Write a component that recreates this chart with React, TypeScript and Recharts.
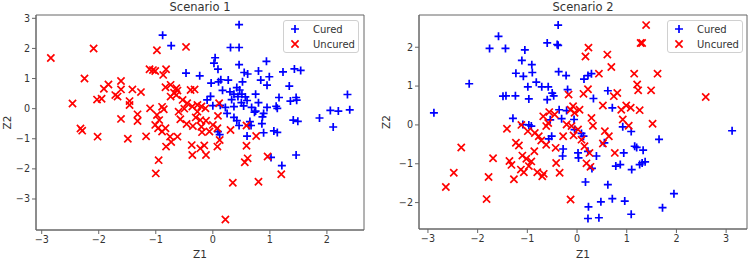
import React from "react"
import { ScatterChart, Scatter, XAxis, YAxis, ReferenceArea, Legend } from "recharts"

// Scenario 1 points [Z1, Z2]
const s1Cured: [number, number][] = [
  [0.46, 2.79], [-0.88, 2.44], [-0.73, 2.09], [0.31, 2.03], [0.46, 2.03], [0.94, 1.57],
  [0.04, 1.69], [0.02, 1.51], [0.46, 1.46], [0.09, 1.31], [-0.47, 1.18], [-0.23, 1.09],
  [0.55, 1.2], [0.61, 1.15], [0.8, 1.25], [1.23, 1.22], [1.43, 1.32], [1.54, 1.27],
  [0.99, 1.06], [0.84, 0.95], [-0.03, 0.85], [0.1, 0.89], [0.14, 0.96], [0.27, 0.95],
  [0.52, 0.89], [0.95, 0.78], [1.34, 0.75], [0.17, 0.61], [0.3, 0.56], [0.42, 0.7],
  [0.47, 0.62], [0.51, 0.48], [0.44, 0.4], [0.37, 0.48], [0.57, 0.39], [0.75, 0.48],
  [0.6, 0.27], [1.16, 0.37], [-0.04, 0.41], [-0.1, 0.29], [1.36, 0.25], [1.46, 0.37],
  [1.47, 0.28], [2.36, 0.47], [0.0, 0.1], [0.13, 0.11], [0.22, 0.04], [0.37, 0.07],
  [0.54, 0.09], [0.68, 0.04], [0.95, 0.04], [1.11, 0.08], [1.13, 0.01], [0.75, -0.08],
  [0.89, -0.16], [0.73, -0.12], [2.06, -0.06], [2.2, -0.08], [2.4, -0.04], [0.25, -0.16],
  [0.37, -0.29], [0.42, -0.4], [0.87, -0.27], [0.65, -0.43], [1.41, -0.38], [1.49, -0.42],
  [1.87, -0.31], [0.63, -0.56], [0.67, -0.56], [0.46, -0.56], [0.86, -0.5], [2.11, -0.61],
  [0.09, -0.76], [0.6, -0.91], [0.89, -0.8], [1.07, -0.74], [1.13, -0.79], [1.02, -1.62],
  [1.46, -1.54], [1.21, -1.89], [0.12, -0.86], [0.33, 0.3], [0.5, 0.2], [0.8, 0.2],
]

const s1Uncured: [number, number][] = [
  [-2.84, 1.68], [-2.09, 2.0], [-0.98, 1.94], [-0.47, 2.05], [-2.25, 1.0], [-1.11, 1.31],
  [-1.05, 1.28], [-1.01, 1.25], [-0.82, 1.31], [-0.87, 1.12], [-1.83, 0.8], [-1.91, 0.66],
  [-1.61, 0.92], [-1.41, 0.64], [-1.26, 0.55], [-2.03, 0.3], [-1.95, 0.33], [-1.71, 0.45],
  [-1.67, 0.4], [-1.61, 0.64], [-2.46, 0.17], [-1.46, 0.25], [-1.46, 0.12], [-1.32, -0.19],
  [-1.32, -0.41], [-1.61, -0.34], [-2.32, -0.66], [-2.29, -0.73], [-2.02, -0.93], [-1.49, -1.0],
  [-1.17, -0.92], [-1.1, 0.01], [-0.89, 0.06], [-0.86, -0.02], [-0.98, -0.21], [-0.94, -0.38],
  [-1.01, -0.54], [-0.96, -0.65], [-0.83, -0.65], [-0.89, -0.76], [-0.75, -0.93], [-0.82, -1.26],
  [-0.73, -1.11], [-0.62, -0.93], [-0.95, -1.71], [-1.0, -2.15], [-0.74, 0.79], [-0.64, 0.68],
  [-0.68, 0.53], [-0.62, 0.6], [-0.83, 0.71], [-0.53, 0.29], [-0.39, 0.62], [-0.32, 0.64],
  [-0.45, 0.18], [-0.36, 0.07], [-0.27, 0.12], [-0.2, 0.07], [-0.13, 0.01], [-0.27, -0.1],
  [-0.3, -0.29], [-0.57, -0.35], [-0.46, -0.51], [-0.35, -0.58], [-0.2, -0.6], [-0.22, -0.38],
  [-0.12, -0.4], [0.0, -0.54], [0.08, -0.65], [-0.06, -0.76], [-0.19, -0.78], [0.09, -0.24],
  [0.11, 0.18], [-0.37, -1.21], [-0.22, -1.32], [-0.36, -1.54], [-0.12, -1.54], [-0.15, -1.22],
  [0.08, -1.26], [0.12, -1.04], [0.31, -0.71], [0.59, -1.23], [0.61, -1.65], [0.56, -1.78],
  [0.59, -0.56], [0.76, -0.91], [0.96, -1.59], [1.2, -2.18], [0.8, -2.43], [0.35, -2.46],
  [0.22, -3.68], [-0.64, 0.45], [-0.74, 0.4], [-0.5, 0.0], [-0.6, -0.1],
]

// Scenario 2 points [Z1, Z2]
const s2Cured: [number, number][] = [
  [-2.88, 0.31], [-2.17, 1.06], [-1.58, 2.28], [-1.76, 1.97], [-1.44, 1.97], [-1.05, 1.93],
  [-0.38, 2.57], [-0.6, 2.11], [-0.4, 2.07], [-0.38, 2.05], [-1.11, 1.66], [-0.91, 1.55],
  [-0.9, 1.35], [-1.23, 1.33], [-1.08, 1.25], [-0.37, 1.37], [-0.22, 1.27], [-0.82, 1.1],
  [-0.99, 0.98], [-0.71, 0.98], [-0.58, 0.98], [-1.49, 0.74], [-1.43, 0.75], [-1.24, 0.75],
  [-0.97, 0.67], [-0.5, 0.82], [-0.47, 0.75], [-0.6, 0.65], [-0.19, 0.91], [0.14, 1.18],
  [0.22, 1.27], [0.29, 1.32], [0.62, 0.88], [0.33, 0.68], [0.71, 0.44], [-0.36, 0.39],
  [-0.21, 0.37], [-0.31, 0.16], [-1.29, 0.17], [-1.09, 0.01], [-0.97, 0.0], [-0.92, -0.03],
  [-0.54, 0.13], [-0.57, -0.36], [-0.51, -0.29], [-0.06, 0.14], [0.09, -0.22], [0.13, -0.29],
  [-0.28, -0.62], [-0.29, -0.8], [0.02, -0.72], [0.03, -0.85], [0.22, -0.68], [0.39, -0.8],
  [0.3, -1.12], [0.92, -0.05], [1.09, -0.17], [1.16, -0.55], [1.2, -0.58], [1.33, -0.65],
  [1.65, -0.37], [0.94, -0.72], [0.78, -1.06], [0.87, -1.02], [1.1, -1.15], [1.26, -1.02],
  [1.31, -0.98], [1.37, -0.95], [0.17, -1.47], [0.62, -1.54], [0.48, -1.98], [0.71, -1.9],
  [0.96, -1.96], [0.23, -2.11], [0.22, -2.41], [0.44, -2.39], [1.09, -2.3], [1.72, -2.13],
  [1.95, -1.77], [3.12, -0.15], [-0.05, -0.12], [0.55, -0.46],
]

const s2Uncured: [number, number][] = [
  [-2.64, -1.6], [-2.48, -1.23], [-2.33, -0.58], [-1.82, -1.91], [-1.78, -1.34], [-1.69, -0.86],
  [-1.41, -0.1], [-1.27, -1.4], [-1.36, -0.93], [-1.32, -1.03], [-1.23, -0.46], [-1.17, -0.53],
  [-1.1, -0.79], [-1.07, -1.22], [-1.13, -1.15], [-1.02, -0.87], [-0.92, -0.94], [-0.97, -1.06],
  [-0.8, -1.22], [-0.7, -1.32], [-0.67, -1.26], [-0.86, -0.68], [-0.77, -0.29], [-0.72, -0.4],
  [-0.99, -0.16], [-1.12, 0.0], [-0.85, -0.21], [-0.42, -0.98], [-0.35, -1.23], [-0.43, -0.59],
  [-0.62, -0.51], [-0.58, 0.05], [-0.56, 0.33], [-0.45, 0.27], [-0.68, 0.22], [-0.62, -0.03],
  [-0.17, 0.78], [-0.13, 0.39], [-0.05, 0.31], [-0.08, 0.48], [0.05, 0.39], [-0.21, 0.01],
  [-0.11, -0.03], [0.02, -0.12], [0.09, -0.38], [0.15, -0.55], [0.19, -0.99], [0.27, -1.08],
  [0.25, -0.72], [-0.13, -1.92], [0.13, 0.8], [0.22, 0.92], [0.17, 1.76], [0.23, 1.99],
  [0.44, 1.32], [0.61, 1.81], [0.69, 1.49], [0.29, 0.18], [0.32, -0.02], [0.52, 0.5],
  [0.56, -0.16], [0.52, -0.48], [0.64, -0.29], [0.76, -0.72], [0.74, 0.74], [0.81, 0.82],
  [0.89, 0.39], [0.92, 0.14], [0.99, 0.5], [1.08, 0.44], [1.04, -0.02], [1.26, 0.38],
  [1.15, 1.32], [1.21, 1.04], [1.23, 0.89], [1.28, 2.11], [1.31, 2.11], [1.39, 2.57],
  [1.62, 1.32], [1.49, 0.89], [1.52, 0.03], [2.59, 0.72], [-0.28, -0.29], [-0.07, -0.27],
]

const s1XTicks = [-3, -2, -1, 0, 1, 2]
const s1YTicks = [-3, -2, -1, 0, 1, 2, 3]
const s2XTicks = [-3, -2, -1, 0, 1, 2, 3]
const s2YTicks = [-2, -1, 0, 1, 2]

const FONT = "'DejaVu Sans', sans-serif"
const BLUE = "#0000ff"
const RED = "#ff0000"

const PlusMark = (props: any) => {
  const { cx, cy } = props
  const r = 4
  return <path d={`M${cx - r},${cy}H${cx + r}M${cx},${cy - r}V${cy + r}`} stroke={BLUE} strokeWidth={1.7} fill="none" />
}

const CrossMark = (props: any) => {
  const { cx, cy } = props
  const r = 3.6
  return (
    <path
      d={`M${cx - r},${cy - r}L${cx + r},${cy + r}M${cx - r},${cy + r}L${cx + r},${cy - r}`}
      stroke={RED}
      strokeWidth={1.7}
      fill="none"
    />
  )
}

const fmt = (v: number) => String(v).replace("-", "\u2212")

const LegendBox = () => (
  <div
    style={{
      position: "relative",
      width: 76,
      height: 33,
      boxSizing: "border-box",
      border: "1px solid #d0d0d0",
      borderRadius: 3,
      background: "rgba(255,255,255,0.85)",
      fontFamily: FONT,
      fontSize: 10,
      color: "#333",
    }}
  >
    <svg width={76} height={33} style={{ position: "absolute", left: -1, top: -1 }}>
      <PlusMark cx={12} cy={9} />
      <CrossMark cx={12} cy={24} />
      <text x={30} y={12.5} fontSize={10} fill="#333" fontFamily={FONT}>Cured</text>
      <text x={30} y={27.5} fontSize={10} fill="#333" fontFamily={FONT}>Uncured</text>
    </svg>
  </div>
)

interface PanelProps {
  title: string
  cured: [number, number][]
  uncured: [number, number][]
  xDomain: [number, number]
  yDomain: [number, number]
  xTicks: number[]
  yTicks: number[]
  width: number
  yAxisWidth: number
  marginRight: number
  xAxisHeight: number
  legendLeft: number
  zOffset: number
}

function Panel(p: PanelProps) {
  const curedData = p.cured.map(([x, y]) => ({ x, y }))
  const uncuredData = p.uncured.map(([x, y]) => ({ x, y }))
  const plotLeft = p.yAxisWidth
  const plotWidth = p.width - p.yAxisWidth - p.marginRight
  const tick = { fontSize: 9.6, fill: "#333", fontFamily: FONT }
  return (
    <div style={{ position: "relative", width: p.width, height: 259 }}>
      <div
        style={{
          position: "absolute",
          top: 0,
          left: plotLeft,
          width: plotWidth,
          textAlign: "center",
          fontFamily: FONT,
          fontSize: 11.5,
          lineHeight: "14px",
          color: "#333",
        }}
      >
        {p.title}
      </div>
      <ScatterChart width={p.width} height={259} margin={{ top: 15, right: p.marginRight, bottom: 0, left: 0 }}>
        <XAxis
          type="number"
          dataKey="x"
          domain={p.xDomain}
          ticks={p.xTicks}
          allowDataOverflow
          height={p.xAxisHeight}
          tickSize={4}
          tickMargin={2}
          tick={tick}
          tickFormatter={fmt}
          stroke="#666"
          label={{ value: "Z1", position: "insideBottom", offset: 1, fontSize: 10.5, fill: "#333", fontFamily: FONT }}
        />
        <YAxis
          type="number"
          dataKey="y"
          domain={p.yDomain}
          ticks={p.yTicks}
          allowDataOverflow
          width={p.yAxisWidth}
          tickSize={4}
          tickMargin={2}
          tick={tick}
          tickFormatter={fmt}
          stroke="#666"
          label={{
            value: "Z2",
            angle: -90,
            position: "insideLeft",
            offset: p.zOffset,
            fontSize: 10.5,
            fill: "#333",
            fontFamily: FONT,
            style: { textAnchor: "middle" },
          }}
        />
        <ReferenceArea
          x1={p.xDomain[0]}
          x2={p.xDomain[1]}
          y1={p.yDomain[0]}
          y2={p.yDomain[1]}
          fill="none"
          stroke="#666"
          strokeWidth={1}
        />
        <Scatter name="Cured" data={curedData} shape={PlusMark} isAnimationActive={false} />
        <Scatter name="Uncured" data={uncuredData} shape={CrossMark} isAnimationActive={false} />
        <Legend
          layout="vertical"
          align="center"
          verticalAlign="middle"
          content={() => <LegendBox />}
          wrapperStyle={{ top: 20, left: p.legendLeft, width: 76, height: 33, bottom: "auto", right: "auto" }}
        />
      </ScatterChart>
    </div>
  )
}

export default function App() {
  return (
    <div style={{ position: "absolute", left: 0, top: 0, width: 749, height: 259, display: "flex", background: "#fff" }}>
      <Panel
        title="Scenario 1"
        cured={s1Cured}
        uncured={s1Uncured}
        xDomain={[-3.1, 2.65]}
        yDomain={[-4.03, 3.11]}
        xTicks={s1XTicks}
        yTicks={s1YTicks}
        width={375}
        yAxisWidth={36}
        marginRight={11}
        xAxisHeight={29}
        legendLeft={283}
        zOffset={7}
      />
      <Panel
        title="Scenario 2"
        cured={s2Cured}
        uncured={s2Uncured}
        xDomain={[-3.18, 3.42]}
        yDomain={[-2.68, 2.83]}
        xTicks={s2XTicks}
        yTicks={s2YTicks}
        width={374}
        yAxisWidth={44}
        marginRight={2}
        xAxisHeight={30}
        legendLeft={292}
        zOffset={11}
      />
    </div>
  )
}
